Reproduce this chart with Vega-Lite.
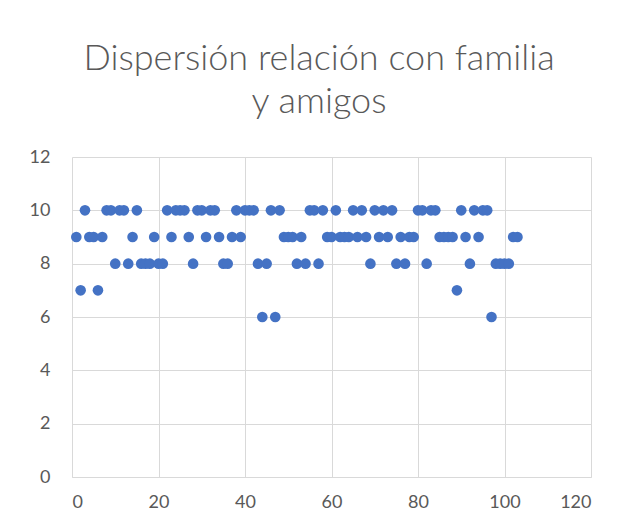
{
  "$schema": "https://vega.github.io/schema/vega-lite/v6.json",
  "width": 519,
  "height": 320,
  "autosize": "none",
  "padding": {"left": 72, "top": 157, "right": 28, "bottom": 53},
  "background": "white",
  "config": {
    "view": {"stroke": null},
    "font": "Lato",
    "axis": {
      "grid": true,
      "gridColor": "#d9d9d9",
      "gridWidth": 1,
      "domain": false,
      "ticks": false,
      "labelFont": "Lato",
      "labelFontSize": 18,
      "labelColor": "#595959",
      "title": null
    }
  },
  "title": {
    "text": ["Dispersión  relación con familia", "y amigos"],
    "font": "Lato",
    "fontSize": 36,
    "fontWeight": 300,
    "color": "#595959",
    "anchor": "middle",
    "frame": "bounds",
    "lineHeight": 43,
    "offset": 27,
    "dx": 9
  },
  "data": {
    "values": [
      {"x": 1, "y": 9}, {"x": 2, "y": 7}, {"x": 3, "y": 10}, {"x": 4, "y": 9}, {"x": 5, "y": 9},
      {"x": 6, "y": 7}, {"x": 7, "y": 9}, {"x": 8, "y": 10}, {"x": 9, "y": 10}, {"x": 10, "y": 8},
      {"x": 11, "y": 10}, {"x": 12, "y": 10}, {"x": 13, "y": 8}, {"x": 14, "y": 9}, {"x": 15, "y": 10},
      {"x": 16, "y": 8}, {"x": 17, "y": 8}, {"x": 18, "y": 8}, {"x": 19, "y": 9}, {"x": 20, "y": 8},
      {"x": 21, "y": 8}, {"x": 22, "y": 10}, {"x": 23, "y": 9}, {"x": 24, "y": 10}, {"x": 25, "y": 10},
      {"x": 26, "y": 10}, {"x": 27, "y": 9}, {"x": 28, "y": 8}, {"x": 29, "y": 10}, {"x": 30, "y": 10},
      {"x": 31, "y": 9}, {"x": 32, "y": 10}, {"x": 33, "y": 10}, {"x": 34, "y": 9}, {"x": 35, "y": 8},
      {"x": 36, "y": 8}, {"x": 37, "y": 9}, {"x": 38, "y": 10}, {"x": 39, "y": 9}, {"x": 40, "y": 10},
      {"x": 41, "y": 10}, {"x": 42, "y": 10}, {"x": 43, "y": 8}, {"x": 44, "y": 6}, {"x": 45, "y": 8},
      {"x": 46, "y": 10}, {"x": 47, "y": 6}, {"x": 48, "y": 10}, {"x": 49, "y": 9}, {"x": 50, "y": 9},
      {"x": 51, "y": 9}, {"x": 52, "y": 8}, {"x": 53, "y": 9}, {"x": 54, "y": 8}, {"x": 55, "y": 10},
      {"x": 56, "y": 10}, {"x": 57, "y": 8}, {"x": 58, "y": 10}, {"x": 59, "y": 9}, {"x": 60, "y": 9},
      {"x": 61, "y": 10}, {"x": 62, "y": 9}, {"x": 63, "y": 9}, {"x": 64, "y": 9}, {"x": 65, "y": 10},
      {"x": 66, "y": 9}, {"x": 67, "y": 10}, {"x": 68, "y": 9}, {"x": 69, "y": 8}, {"x": 70, "y": 10},
      {"x": 71, "y": 9}, {"x": 72, "y": 10}, {"x": 73, "y": 9}, {"x": 74, "y": 10}, {"x": 75, "y": 8},
      {"x": 76, "y": 9}, {"x": 77, "y": 8}, {"x": 78, "y": 9}, {"x": 79, "y": 9}, {"x": 80, "y": 10},
      {"x": 81, "y": 10}, {"x": 82, "y": 8}, {"x": 83, "y": 10}, {"x": 84, "y": 10}, {"x": 85, "y": 9},
      {"x": 86, "y": 9}, {"x": 87, "y": 9}, {"x": 88, "y": 9}, {"x": 89, "y": 7}, {"x": 90, "y": 10},
      {"x": 91, "y": 9}, {"x": 92, "y": 8}, {"x": 93, "y": 10}, {"x": 94, "y": 9}, {"x": 95, "y": 10},
      {"x": 96, "y": 10}, {"x": 97, "y": 6}, {"x": 98, "y": 8}, {"x": 99, "y": 8}, {"x": 100, "y": 8},
      {"x": 101, "y": 8}, {"x": 102, "y": 9}, {"x": 103, "y": 9}
    ]
  },
  "mark": {"type": "circle", "size": 113, "color": "#4472C4", "opacity": 1},
  "encoding": {
    "x": {
      "field": "x",
      "type": "quantitative",
      "scale": {"domain": [0, 120], "nice": false, "zero": true},
      "axis": {"values": [0, 20, 40, 60, 80, 100, 120], "labelPadding": 16, "domain": true, "domainColor": "#d9d9d9"}
    },
    "y": {
      "field": "y",
      "type": "quantitative",
      "scale": {"domain": [0, 12], "nice": false},
      "axis": {"values": [0, 2, 4, 6, 8, 10, 12], "labelPadding": 22}
    }
  }
}
